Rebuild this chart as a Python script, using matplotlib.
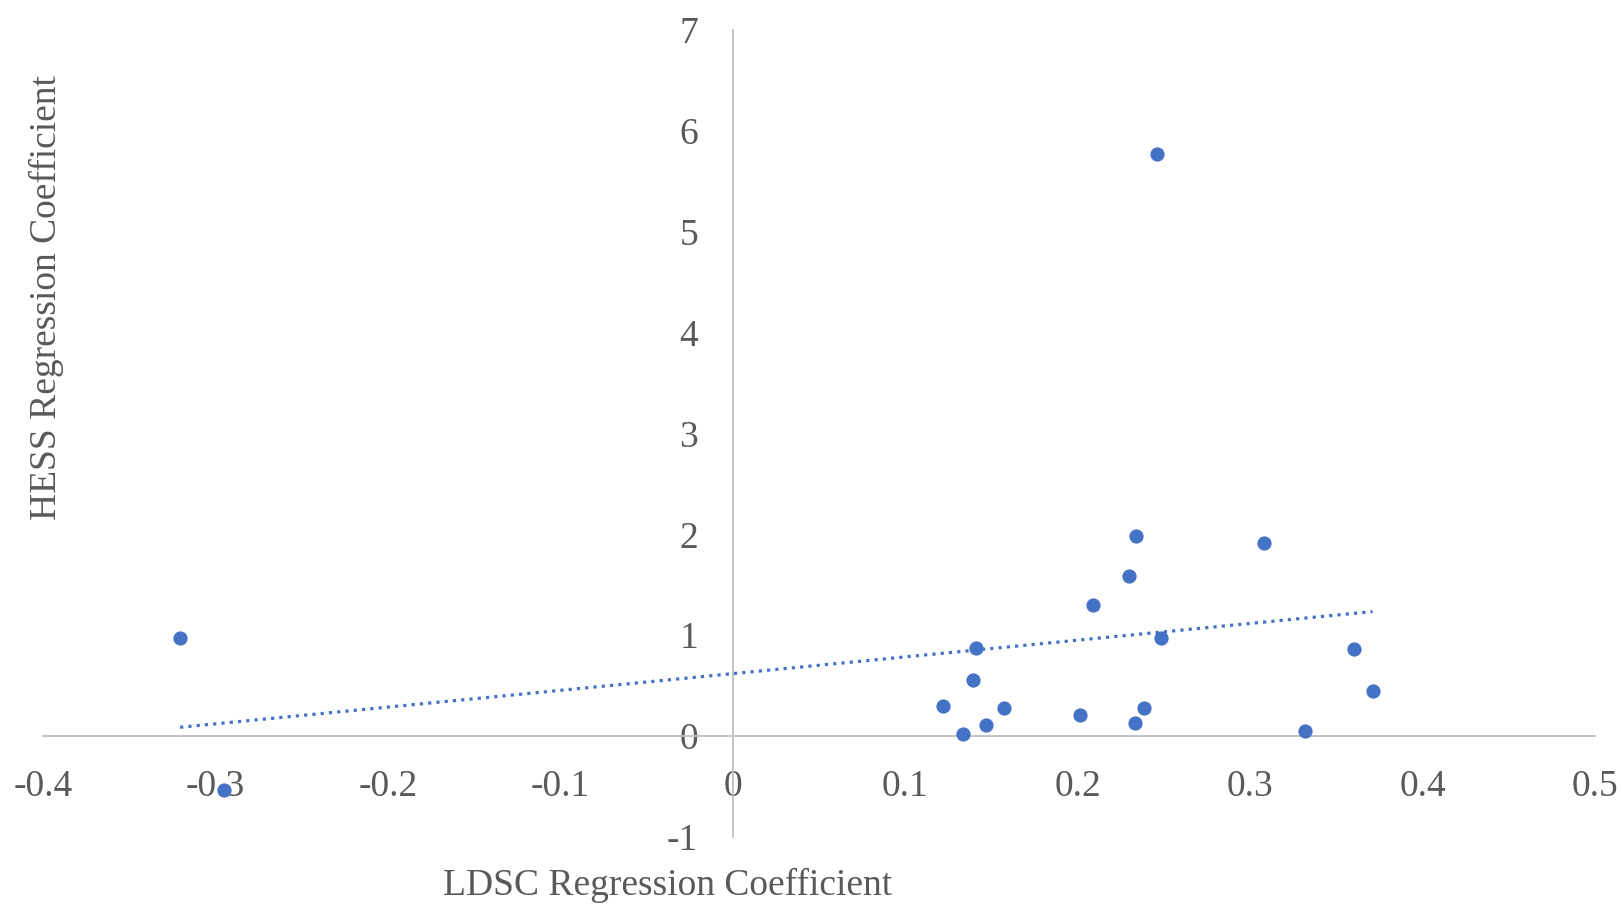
import numpy as np
import matplotlib
matplotlib.use('Agg')
from matplotlib import pyplot as plt

# LDSC vs HESS regression coefficients
ldsc = [-0.3205, -0.2953, 0.1220, 0.1335, 0.1395, 0.1410, 0.1467, 0.1575,
        0.2014, 0.2087, 0.2297, 0.2333, 0.2339, 0.2387, 0.2459, 0.2483,
        0.3079, 0.3319, 0.3602, 0.3710]
hess = [0.975, -0.534, 0.30, 0.02, 0.555, 0.873, 0.113, 0.277,
        0.205, 1.304, 1.59, 0.133, 1.98, 0.277, 5.77, 0.975,
        1.91, 0.05, 0.862, 0.452]

x_ticks = [-0.4, -0.3, -0.2, -0.1, 0, 0.1, 0.2, 0.3, 0.4, 0.5]
y_ticks = [-1, 0, 1, 2, 3, 4, 5, 6, 7]

blue = '#4472C4'
grey_txt = '#595959'
grey_line = '#BFBFBF'

plt.rcParams['font.family'] = ['Liberation Serif', 'DejaVu Serif']

W, H = 1623, 906
fig = plt.figure(figsize=(W / 100, H / 100), dpi=100)
# plot area: x -0.4..0.5 spans px 43..1595, y 7..-1 spans px 30..837
ax = fig.add_axes([43 / W, 1 - 837 / H, (1595 - 43) / W, (837 - 30) / H])

ax.scatter(ldsc, hess, s=105, color=blue, zorder=3, linewidths=0)

# linear trendline over the data range
k, b = np.polyfit(ldsc, hess, 1)
xs = np.array([min(ldsc), max(ldsc)])
ax.plot(xs, k * xs + b, color=blue, linestyle=(0, (1, 1.6)), linewidth=2.3, zorder=2)

ax.set_xlim(-0.4, 0.5)
ax.set_ylim(-1, 7)
ax.set_xticks(x_ticks)
ax.set_yticks(y_ticks)
ax.set_xticklabels([f'{v:g}' for v in x_ticks])
ax.set_yticklabels([str(v) for v in y_ticks])

for s in ['top', 'right']:
    ax.spines[s].set_visible(False)
ax.spines['left'].set_position(('data', 0))
ax.spines['bottom'].set_position(('data', 0))
for s in ['left', 'bottom']:
    ax.spines[s].set_color(grey_line)
    ax.spines[s].set_linewidth(1.3)

ax.tick_params(axis='x', length=0, pad=24, labelsize=27, labelcolor=grey_txt)
ax.tick_params(axis='y', length=0, pad=25, labelsize=27, labelcolor=grey_txt)

fig.text(668 / W, 1 - 885 / H, 'LDSC Regression Coefficient', ha='center', va='center',
         fontsize=27, color=grey_txt)
fig.text(46 / W, 1 - 298 / H, 'HESS Regression Coefficient', ha='center', va='center',
         rotation=90, fontsize=27, color=grey_txt)

fig.savefig('out.png', dpi=100)
